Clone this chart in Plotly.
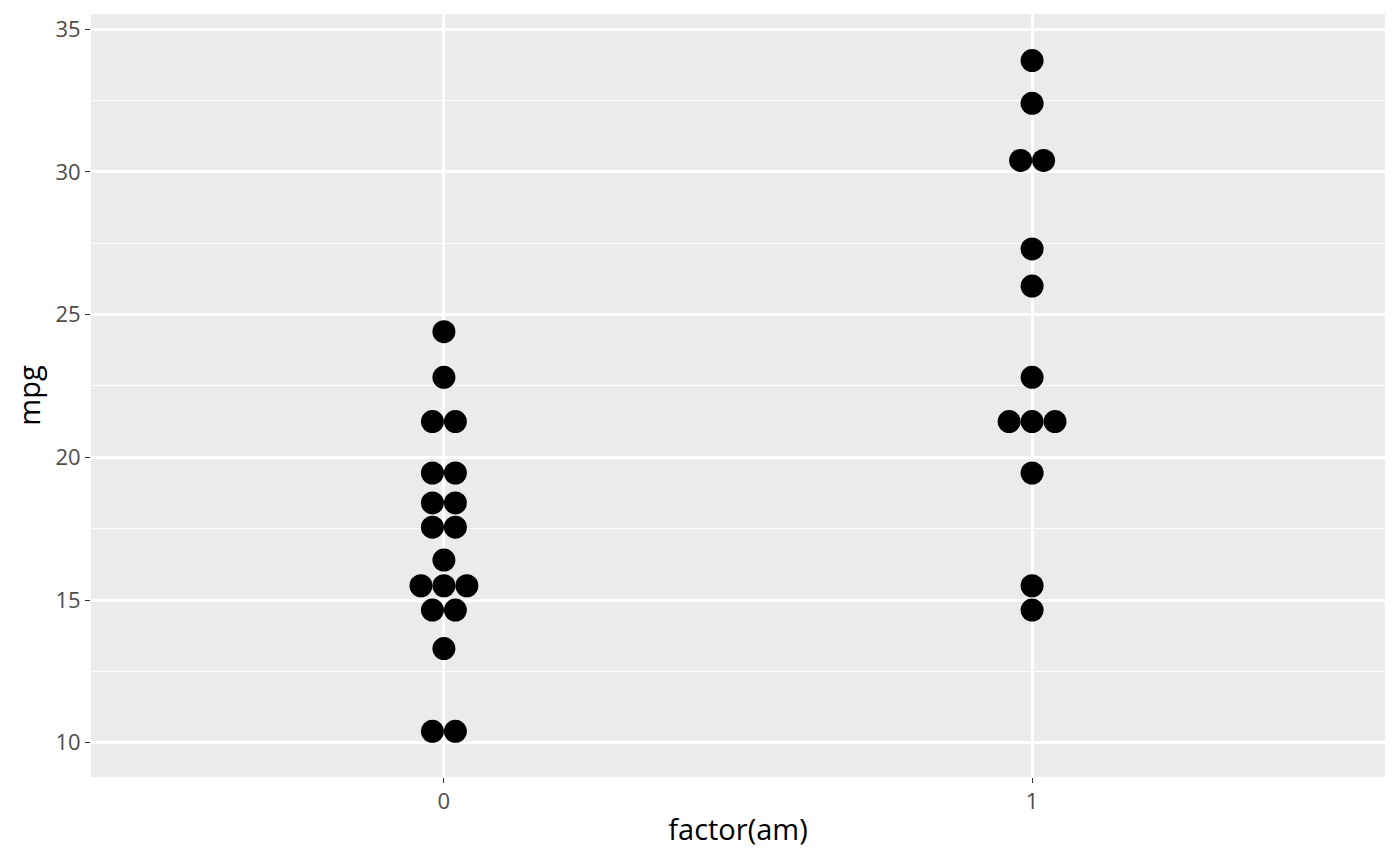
import plotly.graph_objects as go
import numpy as np

# mtcars mpg binned dotplot by transmission (am)
am0_bins = [24.4, 22.8, 21.25, 19.45, 18.4, 17.55, 16.4, 15.5, 14.65, 13.3, 10.4]
am0_counts = [1, 1, 2, 2, 2, 2, 1, 3, 2, 1, 2]
am1_bins = [33.9, 32.4, 30.4, 27.3, 26.0, 22.8, 21.25, 19.45, 15.5, 14.65]
am1_counts = [1, 1, 2, 1, 1, 1, 3, 1, 1, 1]
groups = ["0", "1"]

spacing = 0.039  # stack width per dot, in category units


def stack(center, bins, counts):
    xs, ys = [], []
    for y, n in zip(bins, counts):
        for i in range(n):
            xs.append(center + (i - (n - 1) / 2) * spacing)
            ys.append(y)
    return xs, ys


fig = go.Figure()
for k, (bins, counts) in enumerate([(am0_bins, am0_counts), (am1_bins, am1_counts)]):
    xs, ys = stack(k, bins, counts)
    fig.add_trace(go.Scatter(
        x=xs, y=ys, mode="markers",
        marker=dict(size=23, color="black", line=dict(width=0)),
        showlegend=False, hoverinfo="y",
    ))

# page has an 8px body margin, so the figure is a bit smaller than the window
fig.update_layout(
    width=1384, height=850,
    margin=dict(l=83, r=7, t=6, b=81),
    paper_bgcolor="white",
    plot_bgcolor="#ebebeb",
    font=dict(family="Open Sans", color="black"),
)
fig.update_xaxes(
    range=[-0.6, 1.6],
    tickvals=[0, 1], ticktext=groups,
    showgrid=True, gridcolor="white", gridwidth=2.5,
    zeroline=False,
    ticks="outside", ticklen=5, tickwidth=1.3, tickcolor="#333333",
    tickfont=dict(size=22, color="#4d4d4d"),
    title=dict(text="factor(am)", font=dict(size=29), standoff=5),
)
fig.update_yaxes(
    range=[8.8, 35.53],
    tickvals=[10, 15, 20, 25, 30, 35],
    showgrid=True, gridcolor="white", gridwidth=2.5,
    minor=dict(tickvals=[12.5, 17.5, 22.5, 27.5, 32.5], showgrid=True,
               gridcolor="white", gridwidth=1.3, ticks=""),
    zeroline=False,
    ticks="outside", ticklen=5, tickwidth=1.3, tickcolor="#333333",
    tickfont=dict(size=22, color="#4d4d4d"),
    title=dict(text="mpg", font=dict(size=29), standoff=6),
)

fig.write_html("out.html")
